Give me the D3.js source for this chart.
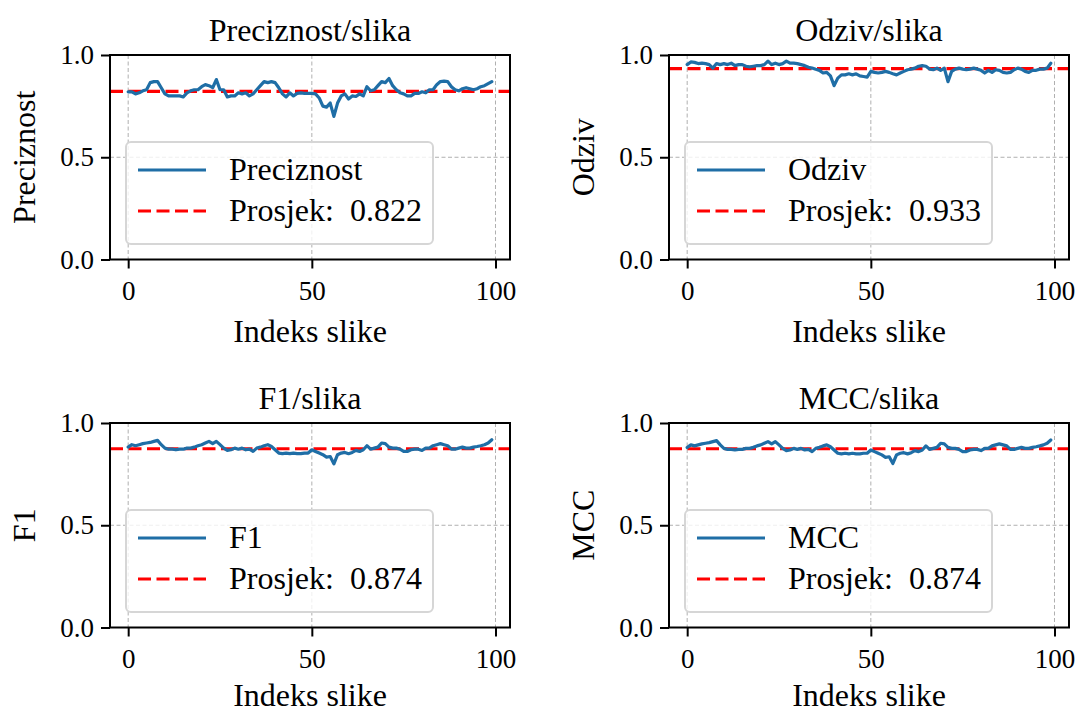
<!DOCTYPE html>
<html>
<head>
<meta charset="utf-8">
<script src="https://cdn.jsdelivr.net/npm/d3@7"></script>
<style>
  html, body { margin: 0; padding: 0; background: #fff; }
  svg text { font-family: "Liberation Serif", "Times New Roman", serif; fill: #000; }
</style>
</head>
<body>
<svg id="chart" width="1081" height="714"></svg>
<script>
// ---- data ----
const titles = ["Preciznost/slika", "Odziv/slika", "F1/slika", "MCC/slika"];
const yLabels = ["Preciznost", "Odziv", "F1", "MCC"];
const seriesNames = ["Preciznost", "Odziv", "F1", "MCC"];
const means = [0.822, 0.933, 0.874, 0.874];
const xTicks = [0, 50, 100];
const yTicks = [0.0, 0.5, 1.0];
const xLabel = "Indeks slike";

const precision = [
  0.82, 0.82, 0.81, 0.815, 0.825, 0.83, 0.865, 0.87, 0.87, 0.84,
  0.81, 0.80, 0.80, 0.80, 0.80, 0.795, 0.815, 0.825, 0.83, 0.83,
  0.845, 0.855, 0.85, 0.84, 0.88, 0.83, 0.83, 0.795, 0.80, 0.80,
  0.815, 0.81, 0.815, 0.80, 0.81, 0.83, 0.85, 0.87, 0.865, 0.87,
  0.865, 0.84, 0.81, 0.795, 0.815, 0.80, 0.812, 0.815, 0.812, 0.812,
  0.812, 0.81, 0.79, 0.75, 0.745, 0.765, 0.70, 0.765, 0.80, 0.81,
  0.785, 0.80, 0.797, 0.81, 0.80, 0.845, 0.825, 0.83, 0.85, 0.87,
  0.865, 0.885, 0.85, 0.83, 0.815, 0.81, 0.80, 0.80, 0.812, 0.812,
  0.82, 0.815, 0.83, 0.83, 0.855, 0.87, 0.872, 0.87, 0.845, 0.83,
  0.825, 0.835, 0.84, 0.835, 0.83, 0.835, 0.845, 0.85, 0.86, 0.87
];
const recall = [
  0.953, 0.966, 0.964, 0.958, 0.96, 0.958, 0.953, 0.936, 0.958, 0.953,
  0.958, 0.953, 0.96, 0.948, 0.953, 0.953, 0.945, 0.942, 0.945, 0.948,
  0.948, 0.953, 0.97, 0.953, 0.96, 0.953, 0.958, 0.97, 0.96, 0.96,
  0.958, 0.953, 0.948, 0.94, 0.936, 0.93, 0.925, 0.912, 0.915, 0.898,
  0.85, 0.887, 0.903, 0.903, 0.908, 0.903, 0.908, 0.898, 0.895, 0.892,
  0.92, 0.915, 0.912, 0.915, 0.92, 0.915, 0.908, 0.903, 0.912, 0.92,
  0.928, 0.931, 0.936, 0.945, 0.948, 0.945, 0.931, 0.928, 0.936, 0.925,
  0.936, 0.87, 0.92, 0.931, 0.936, 0.931, 0.928, 0.931, 0.936, 0.931,
  0.925, 0.912, 0.925, 0.915, 0.928, 0.925, 0.915, 0.912, 0.915, 0.928,
  0.936, 0.931, 0.92, 0.915, 0.925, 0.925, 0.931, 0.931, 0.936, 0.96
];
const f1 = [
  0.882, 0.894, 0.889, 0.894, 0.899, 0.902, 0.905, 0.91, 0.915, 0.894,
  0.877, 0.872, 0.872, 0.869, 0.872, 0.872, 0.877, 0.877, 0.882, 0.889,
  0.894, 0.902, 0.91, 0.899, 0.91, 0.894, 0.877, 0.866, 0.869, 0.877,
  0.872, 0.877, 0.869, 0.872, 0.861, 0.877, 0.882, 0.889, 0.894, 0.885,
  0.869, 0.853, 0.85, 0.853, 0.85, 0.853, 0.85, 0.85, 0.853, 0.853,
  0.869, 0.861, 0.853, 0.845, 0.833, 0.836, 0.80, 0.845, 0.853, 0.856,
  0.85, 0.856, 0.866, 0.861, 0.869, 0.889, 0.872, 0.877, 0.882, 0.902,
  0.899, 0.882, 0.877, 0.877, 0.872, 0.861, 0.861, 0.869, 0.872, 0.872,
  0.866, 0.877, 0.877, 0.889, 0.894, 0.899, 0.894, 0.889, 0.872, 0.872,
  0.877, 0.882, 0.877, 0.877, 0.882, 0.885, 0.889, 0.894, 0.902, 0.918
];
const mcc = [
  0.880, 0.893, 0.888, 0.893, 0.898, 0.901, 0.904, 0.909, 0.914, 0.893,
  0.876, 0.871, 0.871, 0.868, 0.871, 0.871, 0.876, 0.876, 0.881, 0.888,
  0.893, 0.901, 0.909, 0.898, 0.909, 0.893, 0.876, 0.865, 0.868, 0.876,
  0.871, 0.876, 0.868, 0.871, 0.860, 0.876, 0.881, 0.888, 0.893, 0.884,
  0.868, 0.852, 0.849, 0.852, 0.849, 0.852, 0.849, 0.849, 0.852, 0.852,
  0.868, 0.860, 0.852, 0.844, 0.832, 0.835, 0.802, 0.844, 0.852, 0.855,
  0.849, 0.855, 0.865, 0.860, 0.868, 0.888, 0.871, 0.876, 0.881, 0.901,
  0.898, 0.881, 0.876, 0.876, 0.871, 0.860, 0.860, 0.868, 0.871, 0.871,
  0.865, 0.876, 0.876, 0.888, 0.893, 0.898, 0.893, 0.888, 0.871, 0.871,
  0.876, 0.881, 0.876, 0.876, 0.881, 0.884, 0.888, 0.893, 0.901, 0.917
];
const allSeries = [precision, recall, f1, mcc];

// ---- layout ----
const panels = [
  {x0: 110, x1: 510, y0: 55, y1: 259.5},
  {x0: 669, x1: 1069, y0: 55, y1: 259.5},
  {x0: 110, x1: 510, y0: 423, y1: 627.5},
  {x0: 669, x1: 1069, y0: 423, y1: 627.5}
];
const blue = "#1f6ea6";
const red = "#ff0000";
const tickFs = 27;
const fs = 32;
const serif = "'Liberation Serif', 'Times New Roman', serif";

const svg = d3.select("#chart");

panels.forEach((p, k) => {
  const data = allSeries[k];
  const n = data.length;
  const pad = (n - 1) * 0.05;
  const x = d3.scaleLinear().domain([-pad, n - 1 + pad]).range([p.x0, p.x1]);
  const y = d3.scaleLinear().domain([0, 1]).range([p.y1, p.y0]);
  const g = svg.append("g");

  // grid
  g.append("g").selectAll("line").data(xTicks).join("line")
    .attr("x1", d => x(d)).attr("x2", d => x(d))
    .attr("y1", p.y0).attr("y2", p.y1)
    .attr("stroke", "#b0b0b0").attr("stroke-width", 1).attr("stroke-dasharray", "4,2.5");
  g.append("g").selectAll("line").data(yTicks).join("line")
    .attr("x1", p.x0).attr("x2", p.x1)
    .attr("y1", d => y(d)).attr("y2", d => y(d))
    .attr("stroke", "#b0b0b0").attr("stroke-width", 1).attr("stroke-dasharray", "4,2.5");

  // mean line
  g.append("line")
    .attr("x1", p.x0).attr("x2", p.x1)
    .attr("y1", y(means[k])).attr("y2", y(means[k]))
    .attr("stroke", red).attr("stroke-width", 3.2).attr("stroke-dasharray", "13,5.5");

  // series line
  const line = d3.line().x((d, i) => x(i)).y(d => y(d));
  g.append("path").datum(data)
    .attr("d", line).attr("fill", "none")
    .attr("stroke", blue).attr("stroke-width", 3.2).attr("stroke-linejoin", "round").attr("stroke-linecap", "round");

  // axes
  const xAxis = d3.axisBottom(x).tickValues(xTicks).tickSize(9).tickPadding(12).tickFormat(d3.format("d"));
  const yAxis = d3.axisLeft(y).tickValues(yTicks).tickSize(9).tickPadding(7).tickFormat(d3.format(".1f"));
  const gx = g.append("g").attr("transform", `translate(0,${p.y1})`).call(xAxis);
  const gy = g.append("g").attr("transform", `translate(${p.x0},0)`).call(yAxis);
  [gx, gy].forEach(a => {
    a.attr("font-family", serif).attr("font-size", tickFs);
    a.select(".domain").remove();
    a.selectAll("line").attr("stroke", "#000").attr("stroke-width", 2);
    a.selectAll("text").style("font-family", serif).style("font-size", tickFs + "px").attr("fill", "#000");
  });

  // frame
  g.append("rect")
    .attr("x", p.x0).attr("y", p.y0)
    .attr("width", p.x1 - p.x0).attr("height", p.y1 - p.y0)
    .attr("fill", "none").attr("stroke", "#000").attr("stroke-width", 2);

  // title
  g.append("text")
    .attr("x", (p.x0 + p.x1) / 2).attr("y", p.y0 - 14)
    .attr("text-anchor", "middle").style("font-size", fs + "px")
    .text(titles[k]);

  // x label
  g.append("text")
    .attr("x", (p.x0 + p.x1) / 2).attr("y", Math.min(p.y1 + 82, 706))
    .attr("text-anchor", "middle").style("font-size", fs + "px")
    .text(xLabel);

  // y label
  g.append("text")
    .attr("transform", `translate(${p.x0 - 75},${(p.y0 + p.y1) / 2}) rotate(-90)`)
    .attr("text-anchor", "middle").style("font-size", fs + "px")
    .text(yLabels[k]);

  // legend
  const lx = p.x0 + 16, ly = p.y0 + 87, lw = 307, lh = 102;
  const leg = g.append("g");
  leg.append("rect")
    .attr("x", lx).attr("y", ly).attr("width", lw).attr("height", lh)
    .attr("rx", 5).attr("ry", 5)
    .attr("fill", "#fff").attr("fill-opacity", 0.8)
    .attr("stroke", "#d6d6d6").attr("stroke-width", 2);
  leg.append("line")
    .attr("x1", lx + 12).attr("x2", lx + 80)
    .attr("y1", ly + 28).attr("y2", ly + 28)
    .attr("stroke", blue).attr("stroke-width", 3.2);
  leg.append("line")
    .attr("x1", lx + 12).attr("x2", lx + 80)
    .attr("y1", ly + 69).attr("y2", ly + 69)
    .attr("stroke", red).attr("stroke-width", 3.2).attr("stroke-dasharray", "13,5.5");
  leg.append("text")
    .attr("x", lx + 103).attr("y", ly + 38)
    .style("font-size", fs + "px")
    .text(seriesNames[k]);
  leg.append("text")
    .attr("x", lx + 103).attr("y", ly + 79)
    .style("font-size", fs + "px").style("white-space", "pre")
    .text("Prosjek:  " + means[k].toFixed(3));
});
</script>
</body>
</html>
